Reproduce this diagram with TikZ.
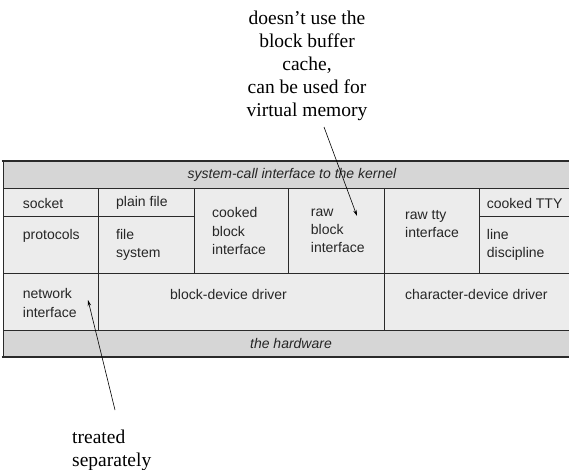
\documentclass[tikz,border=0pt]{standalone}
\usepackage{fontspec}
\setmainfont{Liberation Serif}
\setsansfont{Liberation Sans}
\usetikzlibrary{arrows.meta}
\definecolor{bandc}{HTML}{D6D6D6}
\definecolor{cellc}{HTML}{ECECEC}
\definecolor{linec}{HTML}{2A2A2A}
\tikzset{
  cellbox/.style={draw=linec, fill=cellc, line width=0.8pt, minimum width=#1, inner sep=0pt},
  bandfill/.style={draw=linec, fill=bandc, line width=0.8pt},
  lbl/.style={font=\sffamily\fontsize{14}{18.3}\selectfont, anchor=west, align=left, inner sep=0pt, text=black!85},
  ilbl/.style={font=\sffamily\itshape\fontsize{14}{18.3}\selectfont, inner sep=0pt, text=black!85},
  note/.style={font=\fontsize{19.5}{23}\selectfont, align=center, inner sep=0pt},
  notel/.style={font=\fontsize{19.5}{23}\selectfont, align=left, anchor=west, inner sep=0pt},
  ptr/.style={-{Stealth[length=6pt,width=3.5pt]}, line width=0.6pt, black}
}
\begin{document}
\begin{tikzpicture}[x=1pt,y=-1pt]
\useasboundingbox (0,0) rectangle (569,470);
% bands
\draw[bandfill] (3,161) rectangle (572,188);
\draw[bandfill] (3,330) rectangle (572,357);
% cells
\draw[cellbox] (3,188) rectangle (98.7,216.7);
\draw[cellbox] (3,216.7) rectangle (98.7,273);
\draw[cellbox] (98.7,188) rectangle (194,216.7);
\draw[cellbox] (98.7,216.7) rectangle (194,273);
\draw[cellbox] (194,188) rectangle (288.5,273);
\draw[cellbox] (288.5,188) rectangle (384,273);
\draw[cellbox] (384,188) rectangle (479,273);
\draw[cellbox] (479,188) rectangle (572,216.7);
\draw[cellbox] (479,216.7) rectangle (572,273);
\draw[cellbox] (3,273) rectangle (98.7,330);
\draw[cellbox] (98.7,273) rectangle (384,330);
\draw[cellbox] (384,273) rectangle (572,330);
% thick top and bottom
\draw[linec, line width=2.6pt] (1.7,161) -- (572,161);
\draw[linec, line width=2.6pt] (1.7,357) -- (572,357);
% labels
\node[ilbl] (sys) at (292,175) {system-call interface to the kernel};
\node[lbl] (socket) at (22.7,203) {socket};
\node[lbl] (proto) at (22.7,236) {protocols};
\node[lbl] (plain) at (116,203) {plain file};
\node[lbl] (fsys) at (116,245) {file\\system};
\node[lbl] (cooked) at (212,231) {cooked\\block\\interface};
\node[lbl] (rawblk) at (310.7,231) {raw\\block\\interface};
\node[lbl] (rawtty) at (405,224) {raw tty\\interface};
\node[lbl] (ctty) at (486.7,203) {cooked TTY};
\node[lbl] (ldisc) at (486.7,245) {line\\discipline};
\node[lbl] (netif) at (22.7,303) {network\\interface};
\node[lbl] (bdd) at (170,294) {block-device driver};
\node[lbl] (cdd) at (405,294) {character-device driver};
\node[ilbl] (hw) at (291,343) {the hardware};
% annotations
\node[note] (noteA) at (307,66) {doesn’t use the\\block buffer\\cache,\\can be used for\\virtual memory};
\node[notel] (noteB) at (72,450) {treated\\separately};
\coordinate (tipA) at (357,216);
\coordinate (tailA) at (324,127);
\coordinate (tipB) at (88,300);
\coordinate (tailB) at (115,410);
\draw[ptr] (tailA) -- (tipA);
\draw[ptr] (tailB) -- (tipB);
\end{tikzpicture}
\end{document}
